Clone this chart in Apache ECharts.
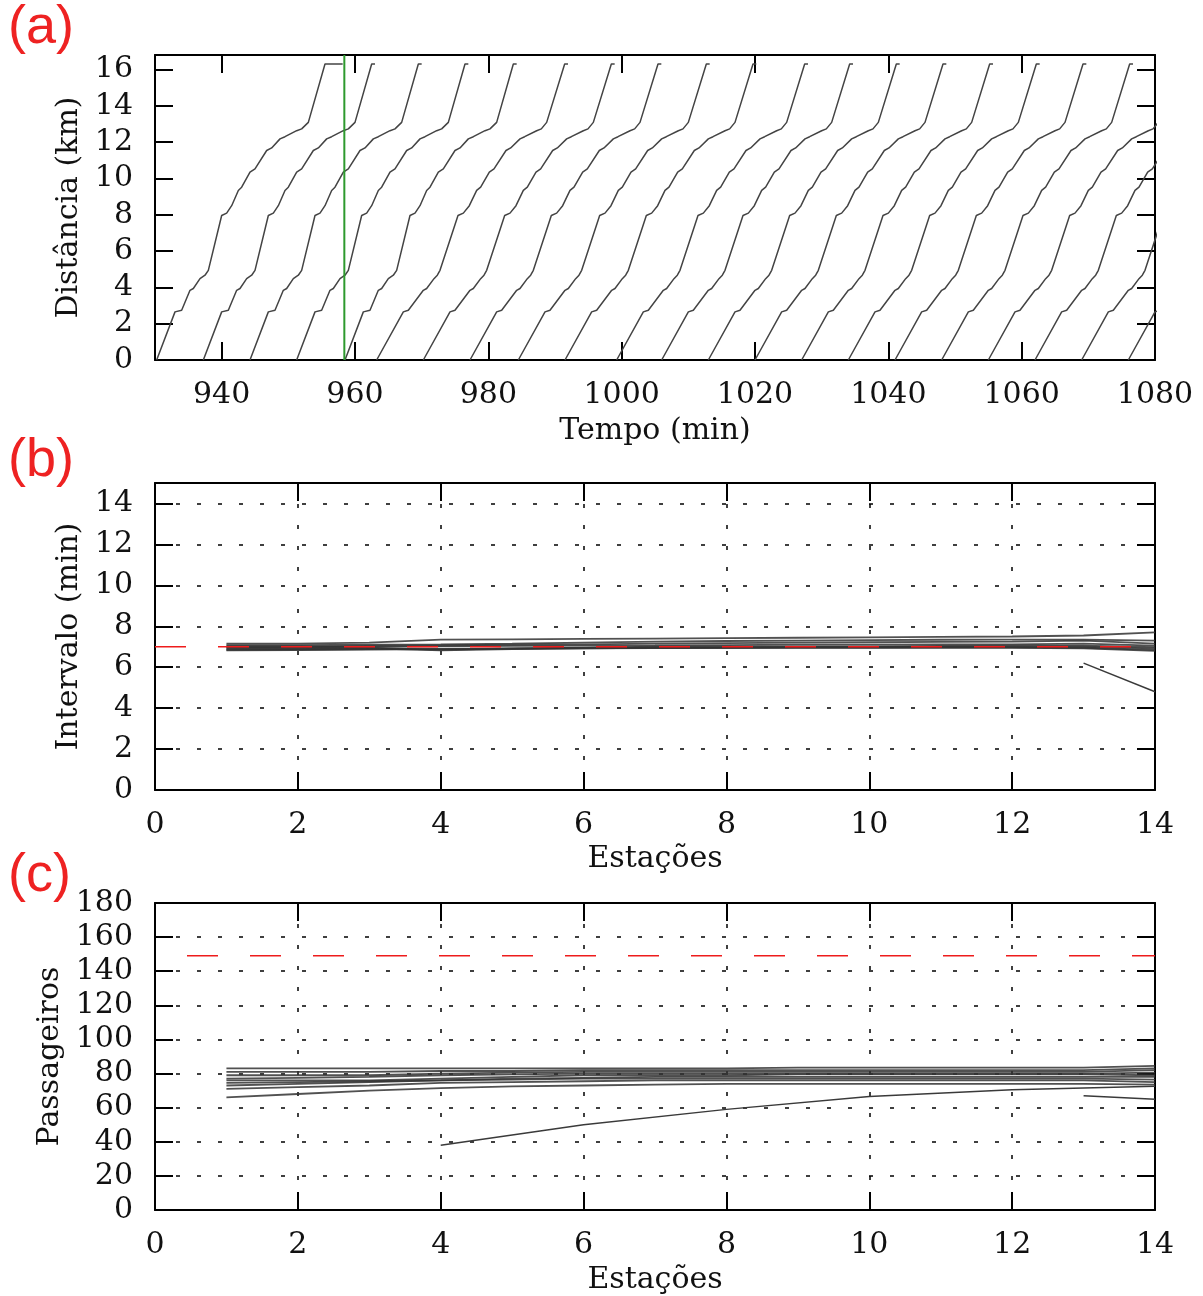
<!DOCTYPE html>
<html lang="pt">
<head>
    <meta charset="UTF-8">
    <meta name="viewport" content="width=device-width, initial-scale=1.0">
    <title>Diagrama espaço-tempo</title>
    <script type="text/javascript" src="https://cdn.jsdelivr.net/npm/echarts@6/dist/echarts.min.js"></script>
    <style type="text/css">
        html, body {
            margin: 0;
            padding: 0;
            background: #fff;
        }
        .chart {
            width: 1203px;
            height: 1296px;
        }
    </style>
</head>
<body>
<div class="chart"></div>
<script type="text/javascript">
    // (a) perfil de marcha: minutos desde a partida e km
    const profileKm = [0, 2.65, 2.74, 3.84, 3.94, 4.48, 4.67, 4.94, 7.96, 8.09, 8.5, 9.34, 9.52,
        10.35, 10.53, 11.54, 11.68, 12.18, 12.3, 12.63, 12.73, 13.09, 16.3, 16.3];
    const profileFast = [0, 2.75, 3.75, 5.0, 5.5, 6.5, 7.25, 7.75, 9.75, 10.5, 11.25, 12.25, 12.75,
        14.0, 14.75, 16.5, 17.25, 18.5, 19.25, 21.0, 21.75, 22.75, 25.25, 25.75];
    const profileSlow = [0, 4.0, 4.75, 7.0, 7.5, 8.6, 9.1, 9.5, 12.2, 13.0, 13.9, 15.0, 15.6,
        16.9, 17.6, 19.4, 20.1, 21.5, 22.2, 24.0, 24.7, 25.5, 28.2, 28.7];
    // partidas (min) e tipo de perfil
    const trainStarts = [930.25, 937.25, 944.25, 951.25, 958.5, 963.25, 970.25, 977.25, 984.5, 991.5,
        999.25, 1006, 1013, 1020, 1027, 1034, 1041, 1048, 1055, 1062, 1069, 1076];
    const trainFast = [true, true, true, true, true, false, false, false, false, false,
        false, false, false, false, false, false, false, false, false, false, false, false];
    const firstHoldEnd = 958.15;   // primeiro trem parado no terminal
    const markTime = 958.4;        // linha verde
    const timeTicks = [940, 960, 980, 1000, 1020, 1040, 1060, 1080];
    const kmTicks = [0, 2, 4, 6, 8, 10, 12, 14, 16];

    // (b) intervalo por estação (estações 1..14)
    const stations = [1, 2, 3, 4, 5, 6, 7, 8, 9, 10, 11, 12, 13, 14];
    const headways = [
        [7.15, 7.15, 7.2, 7.35, 7.36, 7.38, 7.4, 7.42, 7.44, 7.46, 7.48, 7.5, 7.55, 7.7],
        [7.08, 7.08, 7.1, 7.12, 7.15, 7.2, 7.25, 7.28, 7.3, 7.32, 7.34, 7.35, 7.35, 7.3],
        [7.02, 7.02, 7.04, 7.06, 7.1, 7.12, 7.15, 7.18, 7.2, 7.22, 7.24, 7.25, 7.3, 7.15],
        [6.98, 6.98, 7.0, 7.02, 7.04, 7.05, 7.06, 7.08, 7.1, 7.1, 7.12, 7.12, 7.15, 7.05],
        [6.95, 6.95, 6.96, 6.85, 6.92, 6.96, 7.0, 7.0, 7.02, 7.02, 7.04, 7.05, 7.05, 6.98],
        [6.9, 6.9, 6.92, 6.82, 6.88, 6.92, 6.95, 6.96, 6.98, 6.98, 7.0, 7.0, 7.0, 6.92],
        [6.85, 6.86, 6.88, 6.9, 6.92, 6.94, 6.95, 6.95, 6.96, 6.96, 6.97, 6.97, 6.95, 6.85],
        [6.82, 6.84, 6.86, 6.88, 6.9, 6.92, 6.93, 6.94, 6.95, 6.95, 6.95, 6.95, 6.92, 6.8]
    ];
    const headwayTail = [[13, 6.2], [14, 4.8]];
    const headwayTarget = 7;

    // (c) passageiros por estação
    const loads = [
        [83, 83, 83, 83, 83, 83, 83, 83, 83.5, 83.5, 83.5, 83.5, 83.5, 84.5],
        [81, 81, 81, 81.5, 81.5, 82, 82, 82, 82, 82, 82, 82, 82, 83],
        [79, 79, 79, 80, 80.5, 81, 81, 81, 81, 81, 81, 81, 81, 82],
        [77, 77.5, 78, 79, 79.5, 80, 80, 80, 80, 80, 80, 80, 80, 80.5],
        [76, 76, 76, 77, 78, 79, 79, 79, 79.5, 79.5, 79.5, 79.5, 79.5, 79],
        [74.5, 75, 75.5, 76, 77, 77.5, 78, 78, 78, 78, 78, 78, 78, 78],
        [73, 74, 75, 76, 76.5, 77, 77, 77, 77, 77, 77, 77, 77, 76.5],
        [71, 72, 73, 74.5, 75, 75.5, 76, 76, 76, 76, 76, 76, 76, 75],
        [66, 68, 70, 71.5, 72.5, 73, 73.5, 74, 74, 74, 74, 74, 74, 73.5]
    ];
    const loadLate = [[4, 38], [6, 50], [8, 59], [10, 66.5], [12, 70.5], [14, 72.5]];
    const loadTail = [[13, 67], [14, 65]];
    const capacity = 149;

    const SERIF = 'DejaVu Serif';
    const grids = [
        {left: 155, top: 55, width: 1000, height: 305},
        {left: 155, top: 483, width: 1000, height: 307},
        {left: 155, top: 903, width: 1000, height: 307}
    ];

    const frameLine = {show: true, onZero: false, lineStyle: {color: '#000', width: 2}};
    const tickIn = {show: true, inside: true, length: 18, lineStyle: {color: '#000', width: 2}};
    const dotted = {show: true, lineStyle: {color: '#000', width: 1.5, type: [4, 17]}};
    const labelFont = {color: '#111', fontFamily: SERIF, fontSize: 30};
    const plain = function (v) {
        return String(v);
    };

    function xMain(grid, min, max, extra) {
        return Object.assign({
            gridIndex: grid, type: 'value', min: min, max: max, position: 'bottom',
            axisLine: frameLine, axisTick: tickIn,
            axisLabel: Object.assign({margin: 20, formatter: plain}, labelFont),
            nameLocation: 'middle', nameGap: 56,
            nameTextStyle: {color: '#111', fontFamily: SERIF, fontSize: 30},
            splitLine: {show: false}
        }, extra);
    }

    function yMain(grid, min, max, extra) {
        return Object.assign({
            gridIndex: grid, type: 'value', min: min, max: max, position: 'left',
            axisLine: frameLine, axisTick: tickIn,
            axisLabel: Object.assign({margin: 22}, labelFont),
            nameLocation: 'middle', nameGap: 70,
            nameTextStyle: {color: '#111', fontFamily: SERIF, fontSize: 30},
            splitLine: {show: false}
        }, extra);
    }

    function mirror(base, pos) {
        // eixo espelhado: só a linha e os ticks
        return Object.assign({}, base, {
            position: pos, name: '', axisLabel: {show: false}, splitLine: {show: false}
        });
    }

    const xA = xMain(0, 930, 1080, {
        name: 'Tempo (min)',
        axisTick: Object.assign({}, tickIn, {customValues: timeTicks}),
        axisLabel: Object.assign({margin: 20, customValues: timeTicks, formatter: plain}, labelFont)
    });
    const yA = yMain(0, 0, 16.8, {
        name: 'Distância (km)',
        axisTick: Object.assign({}, tickIn, {customValues: kmTicks}),
        axisLabel: Object.assign({margin: 22, customValues: kmTicks}, labelFont)
    });
    const evenOnly = function (v) {
        return v % 2 === 0 ? String(v) : '';
    };
    const xB = xMain(1, 0, 14, {interval: 2, name: 'Estações', nameGap: 54, splitLine: dotted});
    const yB = yMain(1, 0, 15, {
        interval: 2, name: 'Intervalo (min)', splitLine: dotted,
        axisLabel: Object.assign({margin: 22, formatter: evenOnly}, labelFont)
    });
    const xC = xMain(2, 0, 14, {interval: 2, name: 'Estações', nameGap: 55, splitLine: dotted});
    const yC = yMain(2, 0, 180, {interval: 20, name: 'Passageiros', nameGap: 90, splitLine: dotted});

    function line(xi, yi, data, style) {
        return {
            type: 'line', xAxisIndex: xi, yAxisIndex: yi, data: data,
            showSymbol: false, symbol: 'none', silent: true,
            lineStyle: Object.assign({color: '#333', width: 1.5}, style)
        };
    }

    let series = [];

    trainStarts.forEach(function (t0, i) {
        const offs = trainFast[i] ? profileFast : profileSlow;
        const pts = offs.map(function (o, k) {
            return [t0 + o, profileKm[k]];
        });
        if (i === 0) {
            pts[pts.length - 1][0] = firstHoldEnd;
        }
        series.push(line(0, 0, pts, {color: '#444', width: 1.5}));
    });
    series.push(line(0, 0, [[markTime, 0], [markTime, 16.8]], {color: '#2e9a2e', width: 2}));

    headways.forEach(function (row) {
        series.push(line(2, 2, row.map(function (v, k) {
            return [stations[k], v];
        }), {color: '#333', opacity: 0.85, width: 1.8}));
    });
    series.push(line(2, 2, headwayTail, {color: '#3a3a3a'}));
    series.push(line(2, 2, [[0, headwayTarget], [14, headwayTarget]],
        {color: '#ee1c1c', width: 1.5, type: [31, 32]}));

    loads.forEach(function (row) {
        series.push(line(4, 4, row.map(function (v, k) {
            return [stations[k], v];
        }), {color: '#333', opacity: 0.85, width: 1.8}));
    });
    series.push(line(4, 4, loadLate, {color: '#3a3a3a'}));
    series.push(line(4, 4, loadTail, {color: '#3a3a3a'}));
    series.push(line(4, 4, [[0, capacity], [14, capacity]],
        {color: '#ee1c1c', width: 1.5, type: [31, 32], dashOffset: 31}));

    const panelLabel = function (txt, top) {
        return {
            type: 'text', left: 8, top: top,
            style: {text: txt, fill: '#ee2222', font: '54px "Liberation Sans", sans-serif'}
        };
    };

    const option = {
        animation: false,
        backgroundColor: '#fff',
        grid: grids,
        xAxis: [xA, mirror(xA, 'top'), xB, mirror(xB, 'top'), xC, mirror(xC, 'top')],
        yAxis: [yA, mirror(yA, 'right'), yB, mirror(yB, 'right'), yC, mirror(yC, 'right')],
        graphic: [panelLabel('(a)', 1), panelLabel('(b)', 434), panelLabel('(c)', 849)],
        series: series
    };

    const chart = echarts.init(document.querySelector('.chart'));
    chart.setOption(option);
</script>
</body>
</html>
